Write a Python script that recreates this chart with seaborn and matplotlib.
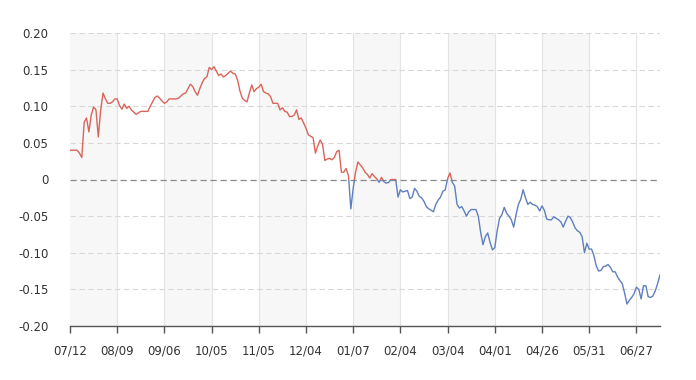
import numpy as np
import pandas as pd
import seaborn as sns
import matplotlib.pyplot as plt
from matplotlib.patches import Rectangle

# daily values (trading days)
values = [
    0.040, 0.040, 0.040, 0.040, 0.036, 0.030, 0.078, 0.084, 0.065, 0.088,
    0.099, 0.095, 0.058, 0.095, 0.118, 0.110, 0.104, 0.104, 0.106, 0.110,
    0.110, 0.101, 0.096, 0.103, 0.097, 0.100, 0.095, 0.092, 0.089, 0.091,
    0.093, 0.093, 0.093, 0.093, 0.100, 0.106, 0.112, 0.114, 0.111, 0.107,
    0.104, 0.106, 0.110, 0.110, 0.110, 0.110, 0.111, 0.114, 0.117, 0.118,
    0.124, 0.130, 0.127, 0.120, 0.115, 0.124, 0.132, 0.138, 0.140, 0.153,
    0.150, 0.154, 0.148, 0.142, 0.144, 0.140, 0.142, 0.145, 0.148, 0.145,
    0.144, 0.136, 0.121, 0.111, 0.108, 0.106, 0.118, 0.129, 0.120, 0.124,
    0.126, 0.130, 0.120, 0.118, 0.117, 0.113, 0.104, 0.104, 0.104, 0.095,
    0.098, 0.093, 0.092, 0.086, 0.086, 0.088, 0.095, 0.082, 0.084, 0.077,
    0.070, 0.061, 0.059, 0.057, 0.036, 0.046, 0.054, 0.048, 0.026, 0.028,
    0.029, 0.027, 0.030, 0.038, 0.040, 0.010, 0.010, 0.015, 0.005, -0.040,
    -0.012, 0.010, 0.024, 0.020, 0.016, 0.010, 0.007, 0.002, 0.008, 0.004,
    0.001, -0.004, 0.003, -0.003, -0.005, -0.004, 0.000, 0.000, 0.000, -0.024,
    -0.014, -0.017, -0.016, -0.015, -0.026, -0.024, -0.012, -0.016, -0.023, -0.025,
    -0.030, -0.037, -0.040, -0.042, -0.044, -0.034, -0.028, -0.024, -0.016, -0.014,
    0.001, 0.009, -0.004, -0.009, -0.034, -0.039, -0.037, -0.043, -0.050, -0.044,
    -0.041, -0.041, -0.041, -0.050, -0.072, -0.089, -0.078, -0.073, -0.086, -0.096,
    -0.093, -0.070, -0.053, -0.048, -0.038, -0.046, -0.050, -0.055, -0.065, -0.048,
    -0.034, -0.027, -0.014, -0.025, -0.034, -0.031, -0.034, -0.035, -0.037, -0.043,
    -0.036, -0.042, -0.054, -0.055, -0.055, -0.051, -0.053, -0.055, -0.058, -0.065,
    -0.057, -0.050, -0.052, -0.058, -0.066, -0.070, -0.072, -0.078, -0.100, -0.087,
    -0.095, -0.095, -0.104, -0.118, -0.125, -0.124, -0.119, -0.118, -0.116, -0.120,
    -0.126, -0.126, -0.133, -0.138, -0.142, -0.155, -0.170, -0.165, -0.161, -0.156,
    -0.147, -0.150, -0.163, -0.145, -0.145, -0.160, -0.161, -0.159, -0.152, -0.142,
    -0.130,
]
tick_labels = ['07/12', '08/09', '09/06', '10/05', '11/05', '12/04', '01/07',
               '02/04', '03/04', '04/01', '04/26', '05/31', '06/27']
tick_step = 20
y_ticks = [0.20, 0.15, 0.10, 0.05, 0, -0.05, -0.10, -0.15, -0.20]

df = pd.DataFrame({'day': np.arange(len(values)), 'value': values})

sns.set_style('white')
plt.rcParams['font.family'] = ['DejaVu Sans']

fig = plt.figure(figsize=(6.96, 3.8), dpi=100)
ax = fig.add_axes([70 / 696, 54 / 380, 590 / 696, 293 / 380])

n = len(values) - 1
ax.set_xlim(0, n)
ax.set_ylim(-0.2, 0.2)

# alternate shaded bands
tick_pos = [i * tick_step for i in range(len(tick_labels))]
for k in range(0, len(tick_pos) - 1, 2):
    ax.axvspan(tick_pos[k], tick_pos[k + 1], color='#f7f7f7', zorder=0, lw=0)

# grid
for t in tick_pos[1:]:
    ax.axvline(t, color='#e4e4e4', lw=0.8, zorder=1)
for y in y_ticks:
    if y == 0:
        ax.axhline(0, color='#8a8a8a', lw=0.9, ls=(0, (5, 3)), zorder=2)
    elif abs(y) < 0.2:
        ax.axhline(y, color='#d8d8d8', lw=0.8, ls=(0, (5, 3)), zorder=1)
ax.axhline(0.2, color='#d8d8d8', lw=0.8, ls=(0, (5, 3)), zorder=1)

# red above zero, blue below zero
sns.lineplot(data=df, x='day', y='value', color='#d9655a', lw=1.0, ax=ax, zorder=3)
red_line = ax.lines[-1]
red_line.set_clip_path(Rectangle((0, 0), n, 0.3, transform=ax.transData))
sns.lineplot(data=df, x='day', y='value', color='#5f7fbd', lw=1.0, ax=ax, zorder=3)
blue_line = ax.lines[-1]
blue_line.set_clip_path(Rectangle((0, -0.3), n, 0.3, transform=ax.transData))

ax.set_xticks(tick_pos)
ax.set_xticklabels(tick_labels)
ax.set_yticks(y_ticks)
ax.set_yticklabels(['0' if y == 0 else f'{y:.2f}' for y in y_ticks])
ax.set_xlabel('')
ax.set_ylabel('')

for s in ['top', 'right', 'left']:
    ax.spines[s].set_visible(False)
ax.spines['bottom'].set_color('#555555')
ax.spines['bottom'].set_linewidth(1.0)
ax.tick_params(axis='x', bottom=True, length=5, width=1, color='#555555',
               labelsize=8.5, labelcolor='#333333', pad=8)
ax.tick_params(axis='y', left=False, labelsize=8.5, labelcolor='#333333', pad=12)

fig.savefig('out.png', dpi=100)
